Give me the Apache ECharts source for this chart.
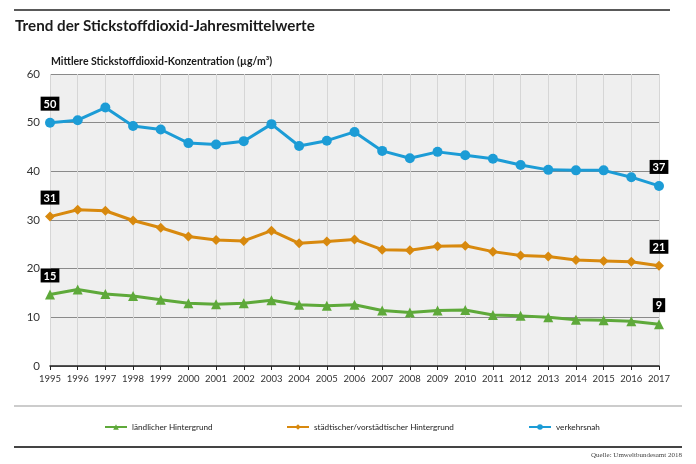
<!DOCTYPE html>
<html><head><meta charset="utf-8">
<script src="https://cdn.jsdelivr.net/npm/echarts@6/dist/echarts.min.js"></script>
<style>html,body{margin:0;padding:0;background:#fff}#c{width:696px;height:464px}</style>
</head><body><div id="c"></div>
<script>
const years = ['1995','1996','1997','1998','1999','2000','2001','2002','2003','2004','2005','2006','2007','2008','2009','2010','2011','2012','2013','2014','2015','2016','2017'];
const laendlich = [14.7,15.7,14.8,14.4,13.6,12.9,12.7,12.9,13.5,12.6,12.4,12.6,11.4,11.0,11.4,11.5,10.5,10.3,10.0,9.5,9.4,9.2,8.6];
const staedtisch = [30.7,32.1,31.9,29.9,28.4,26.6,25.9,25.7,27.8,25.2,25.6,26.0,23.9,23.8,24.6,24.7,23.5,22.7,22.5,21.8,21.6,21.4,20.6];
const verkehrsnah = [50.0,50.5,53.1,49.3,48.6,45.8,45.5,46.2,49.7,45.2,46.3,48.1,44.2,42.7,44.0,43.3,42.6,41.3,40.3,40.2,40.2,38.8,37.0];
const labelsL = ['15','9'];
const labelsS = ['31','21'];
const labelsV = ['50','37'];
const names = ['ländlicher Hintergrund','städtischer/vorstädtischer Hintergrund','verkehrsnah'];
const colors = ['#5ea93a','#d8890e','#1c9cd6'];
const FONT = 'Lato';

function mk(vals, labs) {
  return vals.map((v, i) => {
    if (i === 0 || i === vals.length - 1) {
      return {value: v, label: {show: true, formatter: i === 0 ? labs[0] : labs[1]}};
    }
    return v;
  });
}
const lblStyle = {show:false, position:'top', distance:7, backgroundColor:'#000', color:'#fff', fontWeight:'bold', fontSize:11, fontFamily:FONT, padding:[2,3,1,3]};
const legText = {fontSize:8.2, color:'#222', fontFamily:FONT};

const chart = echarts.init(document.getElementById('c'), null, {renderer:'canvas'});
chart.setOption({
  animation:false,
  textStyle:{fontFamily:FONT},
  title:[
    {text:'Trend der Stickstoffdioxid-Jahresmittelwerte', left:10, top:14, textStyle:{fontSize:15.2, fontWeight:'bold', color:'#1a1a1a', fontFamily:FONT}},
    {text:'Mittlere Stickstoffdioxid-Konzentration (µg/m³)', left:46, top:51, textStyle:{fontSize:10.5, fontWeight:'bold', color:'#1a1a1a', fontFamily:FONT}}
  ],
  grid:{left:50, right:37, top:74, bottom:98, show:true, backgroundColor:'#efefef', borderWidth:0},
  xAxis:{type:'category', data:years, boundaryGap:false,
    axisLine:{lineStyle:{color:'#222', width:1.5}},
    axisTick:{show:true, length:4, interval:0, lineStyle:{color:'#222'}},
    axisLabel:{color:'#333', fontSize:9.5, margin:8, interval:0, fontFamily:FONT},
    splitLine:{show:true, interval:0, lineStyle:{color:'#d6d6d6', width:1}}},
  yAxis:{type:'value', min:0, max:60, interval:10,
    axisLine:{show:false}, axisTick:{show:false},
    axisLabel:{color:'#333', fontSize:11.5, margin:10, fontFamily:FONT},
    splitLine:{lineStyle:{color:'#8a8a8a', width:1}}},
  legend:[
    {data:[names[0]], left:104, top:423, padding:0, itemWidth:22, itemHeight:7, itemGap:2, textStyle:legText},
    {data:[names[1]], left:286, top:423, padding:0, itemWidth:22, itemHeight:7, itemGap:2, textStyle:legText},
    {data:[names[2]], left:528, top:423, padding:0, itemWidth:22, itemHeight:7, itemGap:2, textStyle:legText}
  ],
  series:[
    {name:names[0], type:'line', data:mk(laendlich, labelsL), color:colors[0], symbol:'triangle', symbolSize:10,
      lineStyle:{width:3}, label:lblStyle, z:3},
    {name:names[1], type:'line', data:mk(staedtisch, labelsS), color:colors[1], symbol:'diamond', symbolSize:10,
      lineStyle:{width:3}, label:lblStyle, z:3},
    {name:names[2], type:'line', data:mk(verkehrsnah, labelsV), color:colors[2], symbol:'circle', symbolSize:10,
      lineStyle:{width:3}, label:lblStyle, z:3}
  ],
  graphic:[
    {type:'line', shape:{x1:14, y1:10, x2:670, y2:10}, style:{stroke:'#222', lineWidth:1.6}},
    {type:'line', shape:{x1:14, y1:406, x2:682, y2:406}, style:{stroke:'#999', lineWidth:1}},
    {type:'line', shape:{x1:14, y1:447, x2:682, y2:447}, style:{stroke:'#444', lineWidth:2}},
    {type:'text', right:14, top:452, style:{text:'Quelle: Umweltbundesamt 2018', font:'7px "Liberation Serif"', fill:'#444'}}
  ]
});
</script></body></html>
